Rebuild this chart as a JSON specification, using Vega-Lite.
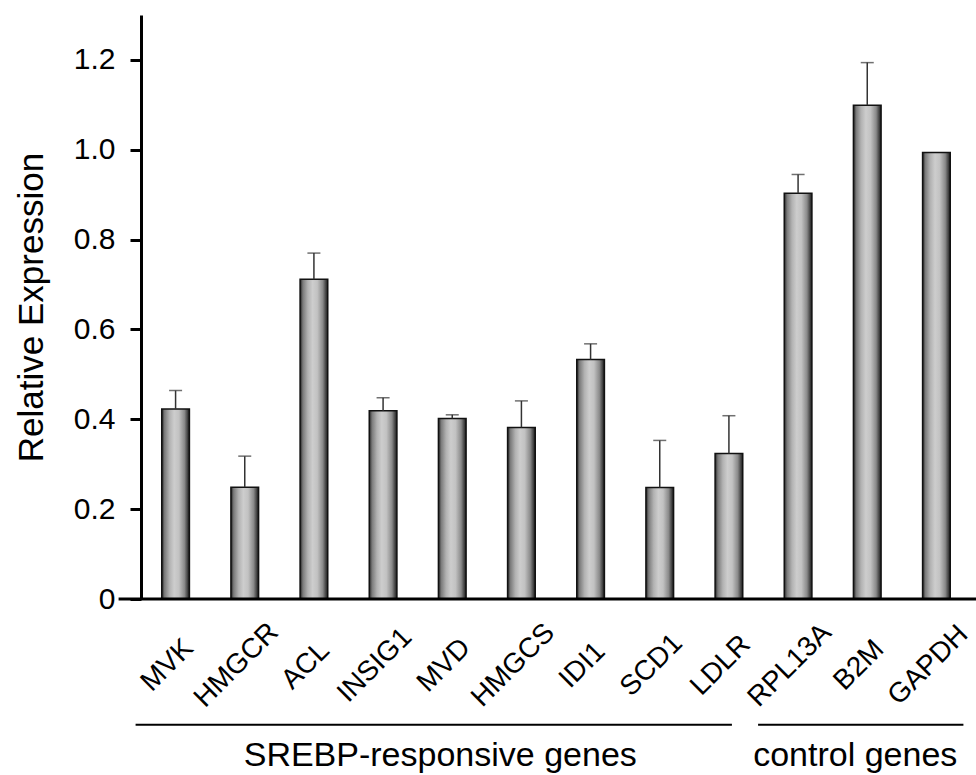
{
  "$schema": "https://vega.github.io/schema/vega-lite/v6.json",
  "width": 830,
  "height": 584,
  "autosize": {"type": "none"},
  "padding": {"left": 141, "top": 15, "right": 5, "bottom": 176},
  "background": "white",
  "config": {"view": {"stroke": null}, "font": "Liberation Sans"},
  "datasets": {
    "genes": [
      {"gene": "MVK", "value": 0.423, "upper": 0.464},
      {"gene": "HMGCR", "value": 0.249, "upper": 0.318},
      {"gene": "ACL", "value": 0.712, "upper": 0.770},
      {"gene": "INSIG1", "value": 0.419, "upper": 0.448},
      {"gene": "MVD", "value": 0.402, "upper": 0.410},
      {"gene": "HMGCS", "value": 0.382, "upper": 0.441},
      {"gene": "IDI1", "value": 0.533, "upper": 0.568},
      {"gene": "SCD1", "value": 0.248, "upper": 0.353},
      {"gene": "LDLR", "value": 0.324, "upper": 0.408},
      {"gene": "RPL13A", "value": 0.903, "upper": 0.945},
      {"gene": "B2M", "value": 1.099, "upper": 1.194},
      {"gene": "GAPDH", "value": 0.994, "upper": null}
    ],
    "groups": [
      {"group": "SREBP-responsive genes", "first": "MVK", "last": "LDLR", "mid": "MVD"},
      {"group": "control genes", "first": "RPL13A", "last": "GAPDH", "mid": "B2M"}
    ]
  },
  "layer": [
    {
      "data": {"name": "genes"},
      "mark": {
        "type": "bar",
        "stroke": "#111111",
        "strokeWidth": 1.5,
        "color": {
          "gradient": "linear",
          "x1": 0, "x2": 1, "y1": 0, "y2": 0,
          "stops": [
            {"offset": 0, "color": "#222222"},
            {"offset": 0.1, "color": "#7a7a7a"},
            {"offset": 0.28, "color": "#b2b2b2"},
            {"offset": 0.45, "color": "#cdcdcd"},
            {"offset": 0.62, "color": "#c2c2c2"},
            {"offset": 0.82, "color": "#8a8a8a"},
            {"offset": 0.93, "color": "#444444"},
            {"offset": 1, "color": "#1a1a1a"}
          ]
        }
      },
      "encoding": {
        "x": {
          "field": "gene",
          "type": "nominal",
          "sort": null,
          "scale": {
            "domain": ["MVK", "HMGCR", "ACL", "INSIG1", "MVD", "HMGCS", "IDI1", "SCD1", "LDLR", "RPL13A", "B2M", "GAPDH"],
            "paddingInner": 0.6,
            "paddingOuter": 0.3
          },
          "axis": {
            "title": null,
            "labelAngle": -45,
            "labelAlign": "center",
            "labelBaseline": "middle",
            "labelFontSize": 28,
            "labelFont": "Liberation Sans",
            "labelColor": "black",
            "labelPadding": 66,
            "labelOffset": -8,
            "labelOverlap": false,
            "labelFlush": false,
            "ticks": false,
            "tickSize": 0,
            "domain": false,
            "grid": false
          }
        },
        "y": {
          "field": "value",
          "type": "quantitative",
          "scale": {"domain": [0, 1.3], "nice": false, "zero": true},
          "axis": {
            "title": "Relative Expression",
            "titleFontSize": 35,
            "titleFontWeight": "normal",
            "titleFont": "Liberation Sans",
            "titleColor": "black",
            "titlePadding": 24,
            "values": [0, 0.2, 0.4, 0.6, 0.8, 1.0, 1.2],
            "labelExpr": "datum.value == 0 ? '0' : format(datum.value, '.1f')",
            "labelFontSize": 30,
            "labelFont": "Liberation Sans",
            "labelColor": "black",
            "labelPadding": 15,
            "tickSize": 11,
            "tickWidth": 3,
            "tickColor": "black",
            "domainWidth": 3,
            "domainColor": "black",
            "grid": false
          }
        }
      }
    },
    {
      "data": {"name": "genes"},
      "transform": [{"filter": "isValid(datum.upper)"}],
      "mark": {"type": "rule", "color": "#333333", "strokeWidth": 1.5},
      "encoding": {
        "x": {"field": "gene", "type": "nominal"},
        "y": {"field": "value", "type": "quantitative"},
        "y2": {"field": "upper"}
      }
    },
    {
      "data": {"name": "genes"},
      "transform": [{"filter": "isValid(datum.upper)"}],
      "mark": {"type": "tick", "color": "#333333", "thickness": 1.5, "size": 13},
      "encoding": {
        "x": {"field": "gene", "type": "nominal"},
        "y": {"field": "upper", "type": "quantitative"}
      }
    },
    {
      "data": {"values": [{}]},
      "mark": {"type": "rule", "color": "black", "strokeWidth": 3, "xOffset": -57, "x2Offset": 40},
      "encoding": {
        "x": {"datum": "MVK", "type": "nominal"},
        "x2": {"datum": "GAPDH"},
        "y": {"datum": 0, "type": "quantitative"}
      }
    },
    {
      "data": {"name": "groups"},
      "transform": [{"filter": "datum.first == 'MVK'"}],
      "mark": {"type": "rule", "color": "black", "strokeWidth": 2, "xOffset": -40, "x2Offset": 3},
      "encoding": {
        "x": {"field": "first", "type": "nominal"},
        "x2": {"field": "last"},
        "y": {"datum": -0.28, "type": "quantitative"}
      }
    },
    {
      "data": {"name": "groups"},
      "transform": [{"filter": "datum.first == 'RPL13A'"}],
      "mark": {"type": "rule", "color": "black", "strokeWidth": 2, "xOffset": -40, "x2Offset": 27},
      "encoding": {
        "x": {"field": "first", "type": "nominal"},
        "x2": {"field": "last"},
        "y": {"datum": -0.28, "type": "quantitative"}
      }
    },
    {
      "data": {"name": "groups"},
      "mark": {"type": "text", "fontSize": 34, "font": "Liberation Sans", "color": "black", "align": "center", "baseline": "alphabetic", "xOffset": -12},
      "encoding": {
        "x": {"field": "mid", "type": "nominal"},
        "y": {"datum": -0.371, "type": "quantitative"},
        "text": {"field": "group"}
      }
    }
  ]
}
